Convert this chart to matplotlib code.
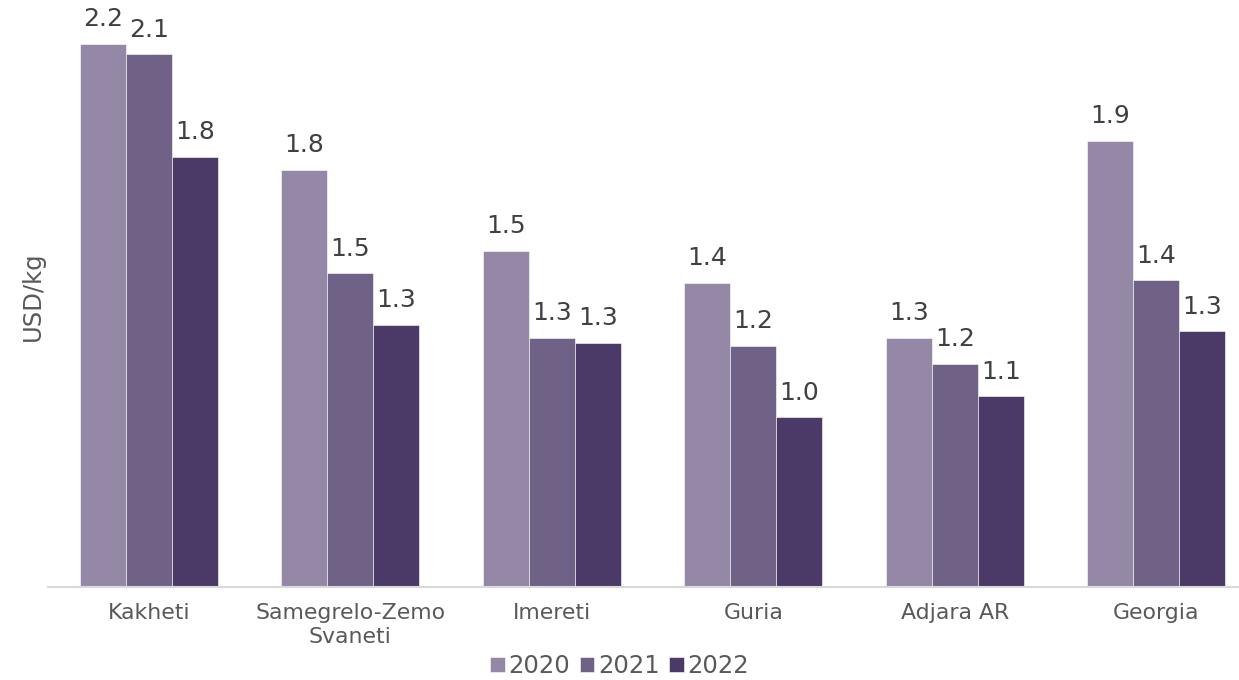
import matplotlib.pyplot as plt
import numpy as np

regions = ['Kakheti', 'Samegrelo-Zemo\nSvaneti', 'Imereti', 'Guria', 'Adjara AR', 'Georgia']
years = ['2020', '2021', '2022']
v2020 = [2.18, 1.79, 1.54, 1.44, 1.27, 1.88]
v2021 = [2.148, 1.47, 1.27, 1.245, 1.19, 1.449]
v2022 = [1.83, 1.31, 1.255, 1.025, 1.09, 1.29]
colors = ['#9488a6', '#706187', '#4b3a67']

fig = plt.figure(figsize=(12.39, 6.8), dpi=100)
ax = fig.add_axes([48 / 1239, 1 - 586.5 / 680, 1191 / 1239, 581.5 / 680])

x = np.arange(len(regions))
w = 0.228
for i, (vals, yr, c) in enumerate(zip([v2020, v2021, v2022], years, colors)):
    pos = x + (i - 1) * w
    ax.bar(pos, vals, width=w, bottom=0, color=c, edgecolor='white', linewidth=0.4, label=yr)
    for px, v in zip(pos, vals):
        ax.annotate(f'{v:.1f}', (px, v), xytext=(0, 12.5), textcoords='offset points',
                    ha='center', va='baseline', fontsize=18, color='#404040')

ax.set_ylim(0.5, 2.3)
ax.set_xlim(-0.5, 5.41)
ax.set_xticks(x)
ax.set_xticklabels(regions, fontsize=15.8, color='#595959', linespacing=1.25)
ax.tick_params(axis='x', length=0, pad=12)
ax.set_yticks([])
for s in ['top', 'right', 'left']:
    ax.spines[s].set_visible(False)
ax.spines['bottom'].set_color('#d9d9d9')
ax.spines['bottom'].set_linewidth(1.5)
ax.set_ylabel('USD/kg', fontsize=17.5, color='#595959', labelpad=2)

fig.legend(loc='center', bbox_to_anchor=(0.5, 1 - 666 / 680), ncol=3, frameon=False,
           fontsize=17.5, handlelength=0.6, handleheight=0.6, handletextpad=0.15,
           columnspacing=0.4, labelcolor='#595959')

fig.savefig('out.png', dpi=100)
